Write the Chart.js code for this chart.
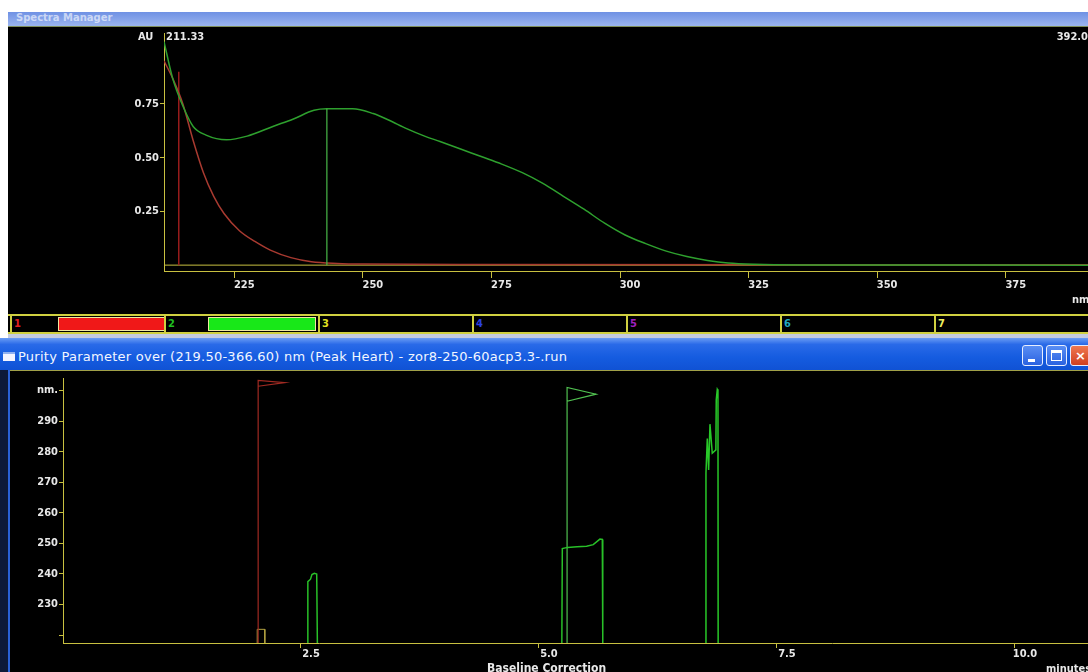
<!DOCTYPE html>
<html>
<head>
<meta charset="utf-8">
<script src="https://cdn.jsdelivr.net/npm/chart.js@4.4.1/dist/chart.umd.min.js"></script>
<style>
html, body { margin: 0; padding: 0; width: 1088px; height: 672px; overflow: hidden; background: #fff; }
.abs { position: absolute; }
.lbl { position: absolute; color: #e8e8e8; font: bold 11px 'Liberation Sans Narrow', 'DejaVu Sans Condensed', sans-serif; white-space: nowrap; }
#topTitle { left: 8px; top: 12px; width: 1080px; height: 14px; background: linear-gradient(#6f91e4, #9bb5ef); color: rgba(255,255,255,0.6); font: bold 10px 'DejaVu Sans', sans-serif; line-height: 12px; padding-left: 8px; box-sizing: border-box; overflow: hidden; }
#topLine { left: 8px; top: 26px; width: 1080px; height: 1px; background: #7f8f5a; }
#topPanel { left: 8px; top: 27px; width: 1080px; height: 287px; background: #000; overflow: hidden; }
#spectrum { position: absolute; left: 2px; top: -1px; }
#legend { left: 8px; top: 314px; width: 1080px; height: 16px; background: #000; border-top: 2px solid #d0d040; border-bottom: 2px solid #d0d040; }
.seg { position: absolute; top: 0; height: 16px; border-left: 2px solid #d0d040; box-sizing: border-box; }
.seg span { position: absolute; left: 2px; top: 1px; font: bold 11px 'DejaVu Sans Condensed', sans-serif; }
.seg i { position: absolute; top: 1px; height: 14px; border: 1px solid #f0e8a0; box-sizing: border-box; }
#sep { left: 8px; top: 334px; width: 1080px; height: 4px; background: #c4cbe0; }
#win2 { left: 0; top: 338px; width: 1088px; height: 334px; background: #0d1a3a; }
#bar { left: 0; top: 0; width: 1088px; height: 32px; background: linear-gradient(#6a9cf4 0%, #2a6ae8 20%, #155ce0 60%, #1052d4 100%); }
#bar .t { position: absolute; left: 18px; top: 11px; color: #f2f6ff; font: 13px 'DejaVu Sans', sans-serif; letter-spacing: 0.25px; white-space: nowrap; }
#bar .ic { position: absolute; left: 3px; top: 14px; width: 12px; height: 9px; background: #f4f4ff; border-top: 2px solid #8fb0f0; box-sizing: border-box; }
.btn { position: absolute; top: 7px; width: 21px; height: 21px; border: 1px solid #e8eeff; border-radius: 3px; box-sizing: border-box; background: linear-gradient(#5a8ef4, #2a62e0); color: #fff; font: bold 13px 'DejaVu Sans', sans-serif; text-align: center; line-height: 19px; }
.btn b { position: absolute; display: block; box-sizing: border-box; }
#botFrame { left: 8px; top: 32px; width: 3px; height: 302px; background: #2a62d8; }
#botLine { left: 10px; top: 32px; width: 1078px; height: 1px; background: #a0a048; }
#botPanel { left: 10px; top: 33px; width: 1078px; height: 301px; background: #000; overflow: hidden; }
#purity { position: absolute; left: 0; top: 0; }
</style>
</head>
<body>
<div id="topTitle" class="abs">Spectra Manager</div>
<div id="topLine" class="abs"></div>
<div id="topPanel" class="abs">
  <canvas id="spectrum" width="1078" height="288"></canvas>
  <span class="lbl" style="left:130px;top:3px">AU</span>
  <span class="lbl" style="left:158px;top:3px">211.33</span>
  <span class="lbl" style="right:0;top:3px">392.0</span>
  <span class="lbl" style="left:1064px;top:266px">nm</span>
</div>
<div id="legend" class="abs"></div>
<div id="sep" class="abs"></div>
<div id="win2" class="abs">
  <div id="bar" class="abs">
    <div class="ic"></div>
    <span class="t">Purity Parameter over (219.50-366.60) nm (Peak Heart) - zor8-250-60acp3.3-.run</span>
    <div class="btn" style="left:1022px"><b style="left:5px;top:13px;width:7px;height:3px;background:#fff"></b></div>
    <div class="btn" style="left:1046px"><b style="left:4px;top:4px;width:11px;height:11px;border:1px solid #fff;border-top-width:3px"></b></div>
    <div class="btn" style="left:1070px;background:linear-gradient(#f07850,#d04020)">×</div>
  </div>
  <div id="botFrame" class="abs"></div>
  <div id="botLine" class="abs"></div>
  <div id="botPanel" class="abs">
    <canvas id="purity" width="1078" height="301"></canvas>
    <span class="lbl" style="left:477px;top:290px;font-size:12px">Baseline Correction</span>
    <span class="lbl" style="left:1036px;top:291px">minutes</span>
  </div>
</div>

<script>
// spectrum window (top)
var greenNm = [211.33, 213, 215, 217, 219.5, 223.5, 227.5, 232.5, 236.5, 240.5, 243, 248, 252, 255, 258.5, 262, 265, 269, 273, 277, 281, 285, 289, 293, 297, 301, 305, 309, 313, 317, 321, 326, 335, 391];
var greenAu = [1.04, 0.87, 0.74, 0.645, 0.605, 0.583, 0.60, 0.645, 0.68, 0.72, 0.727, 0.727, 0.705, 0.675, 0.635, 0.60, 0.575, 0.54, 0.505, 0.47, 0.43, 0.38, 0.32, 0.26, 0.195, 0.14, 0.10, 0.065, 0.04, 0.022, 0.01, 0.004, 0.001, 0];
var redNm = [211.33, 213, 215, 217, 219, 221, 223, 226, 229, 232, 236, 240, 245, 250, 270, 391];
var redAu = [0.95, 0.87, 0.75, 0.58, 0.43, 0.32, 0.24, 0.16, 0.11, 0.07, 0.035, 0.016, 0.008, 0.005, 0.003, 0.002];
var zeroNm = [211.33, 391];
var zeroAu = [0, 0];
var redCursorNm = [214.2, 214.2];
var redCursorAu = [0, 0.9];
var greenCursorNm = [243, 243];
var greenCursorAu = [0, 0.727];
var nmTicks = [225, 250, 275, 300, 325, 350, 375];
var auTicks = [0.25, 0.50, 0.75];

// purity window (bottom)
var peakAMin = [2.57, 2.572, 2.60, 2.615, 2.64, 2.665, 2.672];
var peakANm = [217.43, 237.5, 238.3, 239.8, 240.2, 240, 217.43];
var peakBMin = [5.24, 5.245, 5.30, 5.40, 5.50, 5.57, 5.64, 5.665, 5.67];
var peakBNm = [217.43, 248.3, 248.7, 248.9, 249.1, 249.6, 251.4, 251.3, 217.43];
var peakCMin = [6.752, 6.754, 6.768, 6.782, 6.796, 6.82, 6.858, 6.862, 6.873, 6.88, 6.882];
var peakCNm = [217.43, 273, 284.3, 274, 289, 279.5, 280.6, 297, 300.4, 300, 217.43];
var boxMin = [2.04, 2.04, 2.12, 2.12];
var boxNm = [217.43, 221.9, 221.9, 217.43];
var redMarkMin = [2.05, 2.05, 2.33, 2.05];
var redMarkNm = [217.43, 303.3, 302.6, 301.4];
var greenMarkMin = [5.295, 5.295, 5.6, 5.295];
var greenMarkNm = [217.43, 301.0, 298.8, 296.5];
var minuteTicks = [2.5, 5.0, 7.5, 10.0];
var purityTicks = [220, 230, 240, 250, 260, 270, 280, 290, 300];

var legendNames = ['1', '2', '3', '4', '5', '6', '7'];
var legendColors = ['#e02020', '#20c020', '#e0e020', '#2a40e0', '#a020c0', '#20a8c0', '#f0f060'];

var AXIS = '#c8c040';
var TICK_FONT = { family: "'Liberation Sans Narrow', 'DejaVu Sans Condensed', sans-serif", size: 11, weight: 'bold' };

// legend strip
var legend = document.getElementById('legend');
legendNames.forEach(function(n, i) {
    var seg = document.createElement('div');
    seg.className = 'seg';
    seg.style.left = (2 + i * 154) + 'px';
    seg.style.width = '154px';
    seg.innerHTML = '<span style="color:' + legendColors[i] + '">' + n + '</span>';
    if (i < 2) {
        var bar = document.createElement('i');
        bar.style.left = (i === 0 ? 46 : 42) + 'px';
        bar.style.width = '108px';
        bar.style.background = i === 0 ? '#f01818' : '#18e818';
        seg.appendChild(bar);
    }
    legend.appendChild(seg);
});

function pts(xs, ys) {
    return xs.map(function(x, i) { return { x: x, y: ys[i] }; });
}
function line(xs, ys, color, width, order, smooth) {
    return { data: pts(xs, ys), borderColor: color, borderWidth: width, pointRadius: 0,
        order: order, cubicInterpolationMode: smooth ? 'monotone' : 'default', tension: 0, fill: false };
}
function axisX(min, max, ticks, fmt, height, tickLen, pad) {
    return { type: 'linear', min: min, max: max,
        afterBuildTicks: function(s) { s.ticks = ticks.map(function(v) { return { value: v }; }); },
        afterFit: function(s) { s.height = height; },
        ticks: { color: '#e8e8e8', font: TICK_FONT, labelOffset: 10, padding: pad, maxRotation: 0, autoSkip: false, callback: fmt },
        grid: { display: true, drawOnChartArea: false, drawTicks: true, tickLength: tickLen, tickColor: AXIS },
        border: { display: true, color: AXIS, width: 1 } };
}
function axisY(min, max, ticks, fmt, width) {
    return { type: 'linear', min: min, max: max,
        afterBuildTicks: function(s) { s.ticks = ticks.map(function(v) { return { value: v }; }); },
        afterFit: function(s) { s.width = width; },
        ticks: { color: '#e8e8e8', font: TICK_FONT, padding: 1, autoSkip: false, callback: fmt },
        grid: { display: true, drawOnChartArea: false, drawTicks: true, tickLength: 4, tickColor: AXIS },
        border: { display: true, color: AXIS, width: 1 } };
}
var common = { responsive: false, animation: false, events: [], devicePixelRatio: 1,
    plugins: { legend: { display: false }, tooltip: { enabled: false } } };

new Chart(document.getElementById('spectrum').getContext('2d'), {
    type: 'line',
    data: { datasets: [
        line(zeroNm, zeroAu, AXIS, 1, 4, false),
        line(redNm, redAu, '#a83a30', 1.5, 2, true),
        line(greenNm, greenAu, '#2ea02e', 1.5, 1, true),
        line(redCursorNm, redCursorAu, '#981c1c', 1.5, 3, false),
        line(greenCursorNm, greenCursorAu, '#48b848', 1.2, 0, false)
    ] },
    options: Object.assign({}, common, {
        layout: { padding: { top: 2, left: 0, right: 0, bottom: 0 } },
        scales: {
            x: axisX(211.33, 391, nmTicks, function(v) { return String(v); }, 43, 7, 1),
            y: axisY(-0.0273, 1.077, auTicks, function(v) { return v.toFixed(2); }, 154)
        }
    })
});

new Chart(document.getElementById('purity').getContext('2d'), {
    type: 'line',
    data: { datasets: [
        line(boxMin, boxNm, '#b0a040', 1, 3, false),
        line(redMarkMin, redMarkNm, '#a02a22', 1.2, 2, false),
        line(greenMarkMin, greenMarkNm, '#50c050', 1.2, 1, false),
        line(peakAMin, peakANm, '#28c028', 1.5, 0, false),
        line(peakBMin, peakBNm, '#28c028', 1.5, 0, false),
        line(peakCMin, peakCNm, '#28c828', 1.5, 0, false)
    ] },
    options: Object.assign({}, common, {
        layout: { padding: { top: 3, left: 0, right: 0, bottom: 0 } },
        scales: {
            x: axisX(0, 10.767, minuteTicks, function(v) { return v.toFixed(1); }, 29, 5, 0),
            y: axisY(217.43, 303.9, purityTicks, function(v) { return v === 300 ? 'nm.' : (v === 220 ? '' : String(v)); }, 53)
        }
    })
});
</script>
</body>
</html>
